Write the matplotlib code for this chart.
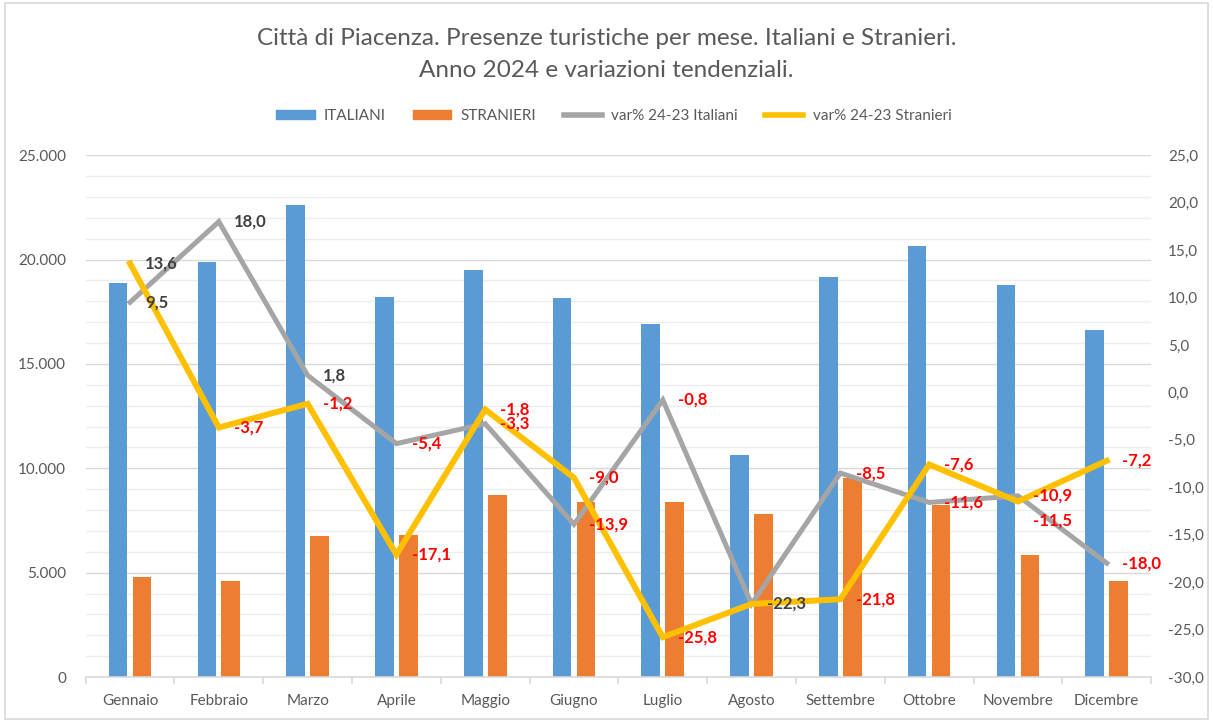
import matplotlib
matplotlib.use("Agg")
import matplotlib.pyplot as plt
import numpy as np
from matplotlib.ticker import FuncFormatter, MultipleLocator
from matplotlib.patches import Rectangle, Patch
from matplotlib.lines import Line2D

months = ["Gennaio", "Febbraio", "Marzo", "Aprile", "Maggio", "Giugno",
          "Luglio", "Agosto", "Settembre", "Ottobre", "Novembre", "Dicembre"]
italiani = [18870, 19870, 22600, 18200, 19480, 18150, 16900, 10630, 19150, 20640, 18770, 16620]
stranieri = [4790, 4600, 6750, 6800, 8720, 8380, 8380, 7800, 9550, 8240, 5840, 4600]
var_ita = [9.5, 18.0, 1.8, -5.4, -3.3, -13.9, -0.8, -22.3, -8.5, -11.6, -10.9, -18.0]
var_str = [13.6, -3.7, -1.2, -17.1, -1.8, -9.0, -25.8, -22.3, -21.8, -7.6, -11.5, -7.2]

BLUE = "#5B9BD5"
ORANGE = "#ED7D31"
GRAY = "#A5A5A5"
YELLOW = "#FFC000"
TXT = "#595959"
DARK = "#404040"
RED = "#FF0000"
FONT = "Lato"

plt.rcParams["font.family"] = [FONT, "DejaVu Sans"]

fig = plt.figure(figsize=(12.13, 7.22), dpi=100)
fig.patches.append(Rectangle((0.004, 0.004), 0.992, 0.992, transform=fig.transFigure,
                             fill=False, edgecolor="#D9D9D9", linewidth=1.2))

ax = fig.add_axes([0.0706, 0.0623, 0.8784, 0.7227])
x = np.arange(len(months))
bw = 0.21
off = 0.135
ax.bar(x - off, italiani, bw, color=BLUE, zorder=2)
ax.bar(x + off, stranieri, bw, color=ORANGE, zorder=2)
ax.set_xlim(-0.5, len(months) - 0.5)
ax.set_ylim(0, 25000)
ax.yaxis.set_major_locator(MultipleLocator(5000))
ax.yaxis.set_minor_locator(MultipleLocator(1000))
ax.yaxis.set_major_formatter(FuncFormatter(lambda v, p: f"{int(v):,}".replace(",", ".")))
ax.grid(axis="y", which="major", color="#D9D9D9", linewidth=1.0, zorder=0)
ax.grid(axis="y", which="minor", color="#EDEDED", linewidth=1.0, zorder=0)
ax.set_axisbelow(True)
for s in ["top", "right", "left"]:
    ax.spines[s].set_visible(False)
ax.spines["bottom"].set_color("#D9D9D9")
ax.spines["bottom"].set_linewidth(1.2)
ax.tick_params(axis="y", which="both", length=0, labelsize=11, colors=TXT, pad=14)
ax.set_xticks(x)
ax.set_xticklabels(months)
ax.set_xticks(np.arange(-0.5, len(months), 1.0), minor=True)
ax.tick_params(axis="x", which="major", length=0, labelsize=11, colors=TXT, pad=12)
ax.tick_params(axis="x", which="minor", length=5, color="#D9D9D9", width=1.2)

ax2 = ax.twinx()
ax2.set_ylim(-30, 25)
ax2.yaxis.set_major_locator(MultipleLocator(5))
ax2.yaxis.set_major_formatter(FuncFormatter(lambda v, p: f"{v:.1f}".replace(".", ",")))
for s in ["top", "right", "left", "bottom"]:
    ax2.spines[s].set_visible(False)
ax2.tick_params(axis="y", length=0, labelsize=11, colors=TXT, pad=12)
ax2.plot(x, var_ita, color=GRAY, linewidth=3.6, zorder=3, solid_joinstyle="miter")
ax2.plot(x, var_str, color=YELLOW, linewidth=4.3, zorder=4, solid_joinstyle="miter")

label_skip = {("str", "Agosto")}
label_dark = {("ita", "Agosto")}
label_down = {("str", "Novembre"): -14}

for key, vals in (("ita", var_ita), ("str", var_str)):
    for i, v in enumerate(vals):
        m = months[i]
        if (key, m) in label_skip:
            continue
        col = DARK if (v >= 0 or (key, m) in label_dark) else RED
        dy = label_down.get((key, m), 0)
        ax2.annotate(f"{v:.1f}".replace(".", ","), (x[i], v), xytext=(11, dy),
                     textcoords="offset points", ha="left", va="center",
                     fontsize=12, fontweight="bold", color=col, zorder=6)

fig.text(0.5, 0.947, "Città di Piacenza. Presenze turistiche per mese. Italiani e Stranieri.",
         ha="center", va="center", fontsize=17.5, color=TXT)
fig.text(0.5, 0.902, "Anno 2024 e variazioni tendenziali.",
         ha="center", va="center", fontsize=17.5, color=TXT)

handles = [Patch(color=BLUE), Patch(color=ORANGE),
           Line2D([], [], color=GRAY, linewidth=4), Line2D([], [], color=YELLOW, linewidth=4)]
labels = ["ITALIANI", "STRANIERI", "var% 24-23 Italiani", "var% 24-23 Stranieri"]
fig.legend(handles, labels, loc="center", bbox_to_anchor=(0.506, 0.839), ncol=4,
           frameon=False, fontsize=11, labelcolor=TXT, handlelength=2.5, handleheight=0.55,
           columnspacing=1.8, handletextpad=0.6)

fig.savefig("out.png", dpi=100)
